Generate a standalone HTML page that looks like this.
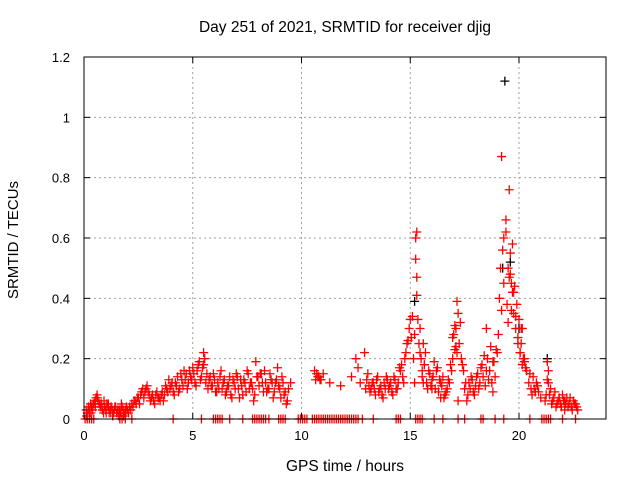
<!DOCTYPE html>
<html><head><meta charset="utf-8"><style>
body{margin:0;background:#fff}
svg{display:block;font-family:"Liberation Sans",sans-serif}
</style></head><body>
<svg id="chart" width="640" height="480">
<rect width="640" height="480" fill="#fff"/>
<text x="345" y="32" font-size="15.5" text-anchor="middle">Day 251 of 2021, SRMTID for receiver djig</text>
<text x="345" y="471" font-size="15.5" text-anchor="middle">GPS time / hours</text>
<text transform="translate(18,240) rotate(-90)" font-size="15" text-anchor="middle">SRMTID / TECUs</text>
<g id="grid"></g><g id="marks"></g><g id="axes"></g>
</svg>
<script>
const xTicks=[0,5,10,15,20];
const yTicks=[0,0.2,0.4,0.6,0.8,1,1.2];
const yTickLabels=["0","0.2","0.4","0.6","0.8","1","1.2"];
const redT=[0.1,0.15,0.2,0.25,0.3,0.35,0.4,0.45,0.5,0.55,0.6,0.65,0.7,0.75,0.8,0.85,0.9,0.95,1.0,1.05,1.1,1.15,1.2,1.25,1.3,1.35,1.4,1.45,1.5,1.55,1.6,1.65,1.7,1.75,1.8,1.85,1.9,1.95,
2.0,2.1,2.2,2.3,2.4,2.5,2.6,2.7,2.8,2.9,3.0,3.1,3.2,3.3,3.4,3.5,3.6,3.7,3.8,3.9,4.0,4.1,4.2,4.3,4.4,4.5,4.6,4.7,4.8,4.9,5.0,5.1,5.2,5.3,5.4,5.5,5.5,5.6,5.7,5.8,5.9,6.0,6.1,6.2,6.3,6.4,6.5,6.6,6.7,6.8,6.9,7.0,7.1,7.2,7.3,7.4,7.5,7.6,7.7,7.8,7.9,8.0,8.1,8.2,8.3,8.4,8.5,8.6,8.7,8.8,8.9,9.0,9.1,9.2,9.3,9.4,9.5,
10.6,10.7,10.8,10.9,11.0,11.3,11.8,12.3,12.5,12.6,12.7,12.9,13.0,13.1,13.2,13.3,13.4,13.5,13.6,13.7,13.8,13.9,14.0,14.1,14.2,14.3,14.4,14.5,14.6,14.7,14.8,14.9,15.0,15.05,15.1,15.15,15.2,15.25,15.25,15.3,15.3,15.35,15.4,15.45,15.5,15.55,15.6,15.65,15.7,15.8,15.9,16.0,16.1,16.2,16.3,16.4,16.5,16.6,16.7,16.8,16.9,16.95,17.0,17.05,17.1,17.15,17.2,17.25,17.3,17.35,17.4,17.5,17.6,17.7,17.8,17.9,18.0,18.1,18.2,18.3,18.4,18.5,18.6,18.7,18.8,18.9,19.0,19.05,19.1,19.15,19.2,19.2,19.25,19.3,19.3,19.4,19.45,19.5,19.5,19.55,19.6,19.65,19.7,19.75,19.8,19.85,19.9,19.95,20.0,20.05,20.1,20.15,20.2,20.25,20.3,20.5,20.6,20.7,20.8,20.9,21.0,21.2,21.3,21.35,21.4,21.5,21.6,21.7,21.8,21.9,22.0,22.1,22.2,22.3,22.4,22.5,22.6,22.7,
15.2,15.3,15.6,16.0,16.4,17.1,17.2,18.5,18.8,19.4,19.6,19.7,20.1,21.3,22.1];
const redV=[0.03,0.02,0.04,0.03,0.05,0.04,0.03,0.05,0.06,0.07,0.08,0.06,0.05,0.04,0.05,0.03,0.02,0.04,0.03,0.05,0.04,0.03,0.02,0.04,0.03,0.02,0.03,0.04,0.02,0.03,0.01,0.03,0.02,0.04,0.03,0.02,0.03,0.04,
0.03,0.04,0.05,0.06,0.05,0.07,0.08,0.1,0.09,0.11,0.08,0.07,0.06,0.08,0.07,0.06,0.09,0.08,0.1,0.13,0.11,0.09,0.12,0.14,0.1,0.13,0.16,0.15,0.12,0.14,0.17,0.12,0.16,0.19,0.14,0.22,0.18,0.12,0.1,0.14,0.11,0.13,0.09,0.1,0.16,0.12,0.08,0.11,0.14,0.07,0.12,0.15,0.1,0.13,0.08,0.12,0.16,0.1,0.12,0.06,0.19,0.14,0.15,0.12,0.16,0.09,0.1,0.13,0.07,0.12,0.17,0.1,0.14,0.08,0.05,0.1,0.12,
0.16,0.15,0.14,0.13,0.15,0.12,0.11,0.14,0.2,0.17,0.12,0.22,0.13,0.11,0.1,0.12,0.08,0.14,0.1,0.08,0.12,0.14,0.1,0.12,0.08,0.13,0.1,0.17,0.18,0.12,0.22,0.26,0.33,0.27,0.34,0.2,0.28,0.6,0.53,0.62,0.47,0.33,0.25,0.3,0.2,0.16,0.12,0.18,0.22,0.1,0.15,0.13,0.19,0.16,0.09,0.12,0.14,0.08,0.1,0.12,0.16,0.2,0.28,0.23,0.3,0.39,0.35,0.25,0.32,0.2,0.18,0.1,0.06,0.12,0.14,0.09,0.11,0.15,0.12,0.18,0.21,0.16,0.13,0.24,0.19,0.14,0.22,0.28,0.4,0.5,0.36,0.87,0.56,0.45,0.6,0.62,0.38,0.5,0.32,0.76,0.55,0.45,0.58,0.35,0.44,0.3,0.38,0.27,0.33,0.22,0.25,0.3,0.2,0.19,0.17,0.15,0.08,0.1,0.12,0.09,0.07,0.06,0.19,0.16,0.08,0.05,0.07,0.04,0.06,0.05,0.08,0.03,0.07,0.05,0.04,0.06,0.05,0.03,
0.12,0.41,0.25,0.1,0.07,0.24,0.06,0.3,0.09,0.66,0.48,0.42,0.3,0.13,0.06];
/* additional dense samples (clusters) */
const red2T=[0.12,0.22,0.32,0.42,0.52,0.62,0.72,0.82,0.92,1.02,1.12,1.22,1.32,1.42,1.52,1.62,1.72,1.82,1.92,
2.05,2.15,2.25,2.35,2.45,2.55,2.65,2.75,2.85,2.95,3.05,3.15,3.25,3.35,3.45,3.55,3.65,3.75,3.85,3.95,4.05,4.15,4.25,4.35,4.45,4.55,4.65,4.75,4.85,4.95,5.05,5.15,5.25,5.35,5.45,5.55,5.65,5.75,5.85,5.95,6.05,6.15,6.25,6.35,6.45,6.55,6.65,6.75,6.85,6.95,7.05,7.15,7.25,7.35,7.45,7.55,7.65,7.75,7.85,7.95,8.05,8.15,8.25,8.35,8.45,8.55,8.65,8.75,8.85,8.95,9.05,9.15,9.25,9.35,
10.65,10.75,10.85,12.95,13.05,13.15,13.25,13.35,13.45,13.55,13.65,13.75,13.85,13.95,14.05,14.15,14.25,14.35,14.45,14.55,14.65,14.75,14.85,14.95,15.45,15.55,15.65,15.75,15.85,15.95,16.05,16.15,16.25,16.35,16.45,16.55,16.65,16.75,16.85,16.95,17.05,17.15,17.45,17.55,17.65,17.75,17.85,17.95,18.05,18.15,18.25,18.35,18.45,18.55,18.65,18.75,18.85,18.95,19.55,19.65,19.75,19.85,19.95,20.05,20.15,20.25,20.35,20.45,20.55,20.65,20.75,20.85,21.25,21.35,21.45,21.55,21.65,21.75,21.85,21.95,22.05,22.15,22.25,22.35,22.45,22.55,22.65];
const red2V=[0.01,0.03,0.02,0.05,0.04,0.07,0.05,0.04,0.06,0.02,0.05,0.03,0.01,0.04,0.02,0.03,0.05,0.01,0.02,
0.02,0.03,0.04,0.06,0.07,0.05,0.09,0.07,0.1,0.09,0.06,0.08,0.05,0.09,0.07,0.08,0.06,0.11,0.09,0.1,0.12,0.08,0.11,0.09,0.15,0.11,0.13,0.1,0.16,0.13,0.15,0.11,0.18,0.13,0.17,0.2,0.15,0.13,0.11,0.15,0.09,0.12,0.14,0.1,0.13,0.09,0.11,0.08,0.13,0.1,0.14,0.07,0.11,0.13,0.09,0.15,0.12,0.1,0.08,0.14,0.11,0.15,0.09,0.12,0.1,0.15,0.12,0.09,0.13,0.11,0.07,0.12,0.09,0.06,
0.13,0.14,0.13,0.1,0.15,0.09,0.12,0.1,0.13,0.09,0.11,0.07,0.1,0.13,0.11,0.09,0.14,0.1,0.12,0.16,0.14,0.2,0.25,0.3,0.22,0.14,0.18,0.12,0.16,0.11,0.14,0.1,0.17,0.13,0.11,0.07,0.09,0.13,0.18,0.27,0.31,0.22,0.16,0.12,0.08,0.1,0.13,0.08,0.14,0.1,0.17,0.14,0.11,0.2,0.16,0.12,0.19,0.23,0.47,0.36,0.42,0.34,0.25,0.22,0.18,0.2,0.16,0.12,0.1,0.14,0.09,0.11,0.08,0.12,0.1,0.06,0.09,0.05,0.07,0.04,0.06,0.05,0.04,0.07,0.03,0.05,0.04];
const blackT=[15.2,19.25,19.35,19.6,20.0,21.3];
const blackV=[0.39,0.5,1.12,0.52,0.3,0.2];
const zeroT=[0.05,0.15,0.25,0.35,0.45,1.65,1.75,1.9,2.2,4.1,5.4,5.95,6.05,6.15,6.25,6.35,6.7,7.3,7.75,7.85,7.95,8.05,8.15,8.25,8.35,8.5,8.95,9.05,9.15,9.25,9.85,9.95,10.05,10.15,10.25,10.5,10.6,10.7,10.8,10.9,11.0,11.1,11.2,11.3,11.4,11.5,11.6,11.7,11.8,11.9,12.0,12.1,12.2,12.3,12.4,12.5,12.6,12.8,13.3,14.35,14.45,14.55,15.25,15.35,15.45,15.55,16.1,16.5,17.2,17.5,18.25,18.35,18.9,19.3,20.5,21.05,21.15,21.25,21.35,21.45,22.0,22.6];
const X=t=>84+t*(522/24), Y=v=>419-v*(362/1.2);
const NS="http://www.w3.org/2000/svg";
function mk(tag,attrs,parent){const e=document.createElementNS(NS,tag);for(const k in attrs)e.setAttribute(k,attrs[k]);parent.appendChild(e);return e;}
const grid=document.getElementById('grid'),axes=document.getElementById('axes'),marks=document.getElementById('marks');
xTicks.forEach(t=>{if(t>0){const l=mk('line',{x1:X(t),x2:X(t),y1:57,y2:419,stroke:'#a0a0a0','stroke-dasharray':'2,3'},grid);

}
const tx=mk('text',{x:X(t),y:440,'font-size':13,'text-anchor':'middle'},axes);tx.textContent=t;


mk('line',{x1:X(t),x2:X(t),y1:419,y2:413,stroke:'#000'},axes);mk('line',{x1:X(t),x2:X(t),y1:57,y2:63,stroke:'#000'},axes);});
yTicks.forEach((v,i)=>{if(v>0&&v<1.2){const l=mk('line',{x1:84,x2:606,y1:Y(v),y2:Y(v),stroke:'#a0a0a0','stroke-dasharray':'2,3'},grid);

}
const tx=mk('text',{x:70,y:Y(v)+5,'font-size':13,'text-anchor':'end'},axes);tx.textContent=yTickLabels[i];


mk('line',{x1:84,x2:90,y1:Y(v),y2:Y(v),stroke:'#000'},axes);mk('line',{x1:606,x2:600,y1:Y(v),y2:Y(v),stroke:'#000'},axes);});
const frame=mk('rect',{x:84,y:57,width:522,height:362,fill:'none',stroke:'#000'},axes);


function plus(t,v,c){const x=X(t),y=Y(v);const p=mk('path',{d:`M${x-4.5},${y}h9M${x},${y-4.5}v9`,stroke:c,'stroke-width':1.3,fill:'none'},marks);return p;}
blackT.forEach((t,i)=>{const p=plus(t,blackV[i],'#000');

});
redT.forEach((t,i)=>{const p=plus(t,redV[i],'#f00');

});
red2T.forEach((t,i)=>{const p=plus(t,red2V[i],'#f00');

});
zeroT.forEach(t=>{const p=plus(t,0,'#f00');

});
</script>
</body></html>
